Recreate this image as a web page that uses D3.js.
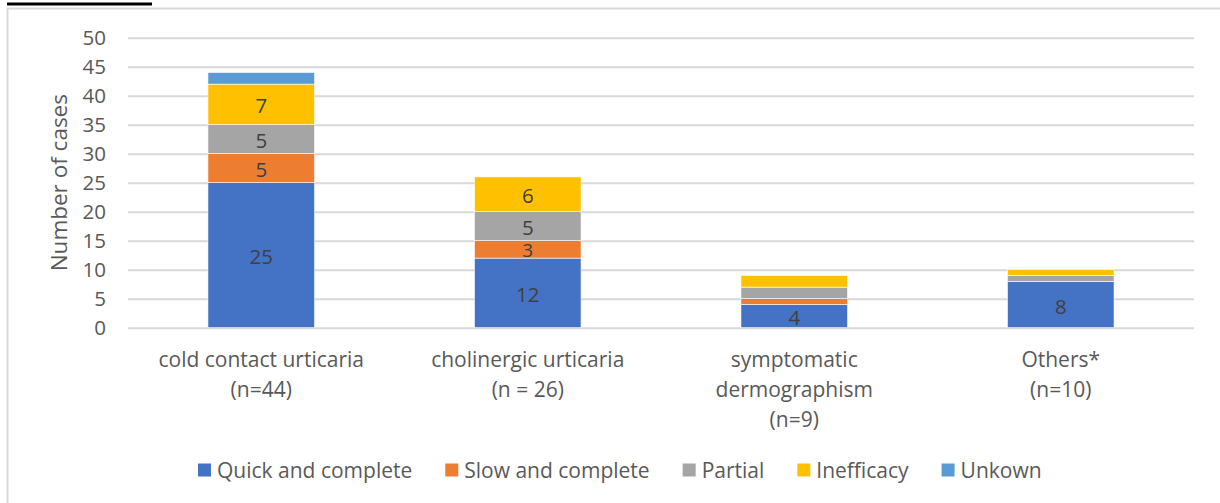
<!DOCTYPE html>
<html>
<head>
<meta charset="utf-8">
<script src="https://cdn.jsdelivr.net/npm/d3@7/dist/d3.min.js"></script>
<style>
  html, body { margin: 0; padding: 0; background: #fff; }
  svg { display: block; font-family: "Open Sans", sans-serif; }
</style>
</head>
<body>
<svg id="chart" width="1220" height="503"></svg>
<script>
const categories = [
  ["cold contact urticaria", "(n=44)"],
  ["cholinergic urticaria", "(n = 26)"],
  ["symptomatic", "dermographism", "(n=9)"],
  ["Others*", "(n=10)"]
];
const seriesNames = ["Quick and complete", "Slow and complete", "Partial", "Inefficacy", "Unkown"];
const seriesColors = ["#4472C4", "#ED7D31", "#A5A5A5", "#FFC000", "#5B9BD5"];
const quickComplete = [25, 12, 4, 8];
const slowComplete = [5, 3, 1, 0];
const partial = [5, 5, 2, 1];
const inefficacy = [7, 6, 2, 1];
const unknown = [2, 0, 0, 0];
const yTicks = [0, 5, 10, 15, 20, 25, 30, 35, 40, 45, 50];
const yTitle = "Number of cases";
const labelMin = 3;

const seriesValues = [quickComplete, slowComplete, partial, inefficacy, unknown];
const svg = d3.select("#chart");

// outer frame (cropped chart border) and caption underline
svg.append("path").attr("d", "M7.5,503 V8.5 H1220").attr("fill", "none")
  .attr("stroke", "#d9d9d9").attr("stroke-width", 2);
svg.append("line").attr("x1", 7).attr("x2", 152).attr("y1", 4).attr("y2", 4)
  .attr("stroke", "#000").attr("stroke-width", 3);

const plot = { left: 128, right: 1194, top: 37.7, bottom: 327.7 };
const x = d3.scaleBand().domain(d3.range(categories.length)).range([plot.left, plot.right]).padding(0);
const y = d3.scaleLinear().domain([0, 50]).range([plot.bottom, plot.top]);
const barW = x.bandwidth() * 0.4;

// gridlines
const yAxis = d3.axisLeft(y).tickValues(yTicks).tickSize(-(plot.right - plot.left)).tickPadding(22);
const gy = svg.append("g").attr("transform", `translate(${plot.left},0)`).call(yAxis);
gy.select(".domain").remove();
gy.selectAll(".tick line").attr("stroke", "#d9d9d9").attr("stroke-width", 2);
gy.selectAll(".tick text").attr("fill", "#595959").style("font-size", "20.5px")
  .style("font-family", "Open Sans, sans-serif");

// stacks
const rows = categories.map((c, i) => {
  const r = { i };
  seriesNames.forEach((s, k) => r[s] = seriesValues[k][i]);
  return r;
});
const stack = d3.stack().keys(seriesNames)(rows);
const gBars = svg.append("g");
stack.forEach((layer, k) => {
  layer.forEach((d, i) => {
    const v = d[1] - d[0];
    if (v <= 0) return;
    const cx = x(i) + x.bandwidth() / 2;
    gBars.append("rect")
      .attr("x", cx - barW / 2).attr("width", barW)
      .attr("y", y(d[1])).attr("height", y(d[0]) - y(d[1]))
      .attr("fill", seriesColors[k])
      .attr("stroke", "#fff").attr("stroke-width", 0.6);
  });
});
stack.forEach((layer, k) => {
  layer.forEach((d, i) => {
    const v = d[1] - d[0];
    if (v < labelMin) return;
    const cx = x(i) + x.bandwidth() / 2;
    gBars.append("text")
      .attr("x", cx).attr("y", (y(d[0]) + y(d[1])) / 2 + 1)
      .attr("text-anchor", "middle").attr("dominant-baseline", "central")
      .attr("fill", "#404040").style("font-size", v <= 3 ? "19px" : "20.5px")
      .text(v);
  });
});

// category labels
const gx = svg.append("g");
categories.forEach((lines, i) => {
  const cx = x(i) + x.bandwidth() / 2;
  lines.forEach((t, j) => {
    gx.append("text").attr("x", cx).attr("y", 359 + j * 30)
      .attr("text-anchor", "middle").attr("dominant-baseline", "central")
      .attr("fill", "#595959").style("font-size", "21px").text(t);
  });
});

// y title
svg.append("text").attr("transform", `translate(58,${(plot.top + plot.bottom) / 2}) rotate(-90)`)
  .attr("text-anchor", "middle").attr("dominant-baseline", "central")
  .attr("fill", "#595959").style("font-size", "22.5px").text(yTitle);

// legend
const gl = svg.append("g");
let lx = 198;
const ly = 470;
seriesNames.forEach((s, k) => {
  gl.append("rect").attr("x", lx).attr("y", ly - 6.5).attr("width", 13).attr("height", 13)
    .attr("fill", seriesColors[k]);
  const t = gl.append("text").attr("x", lx + 19).attr("y", ly)
    .attr("dominant-baseline", "central").attr("fill", "#595959")
    .style("font-size", "21px").text(s);
  lx += 19 + t.node().getComputedTextLength() + 33;
});
</script>
</body>
</html>
